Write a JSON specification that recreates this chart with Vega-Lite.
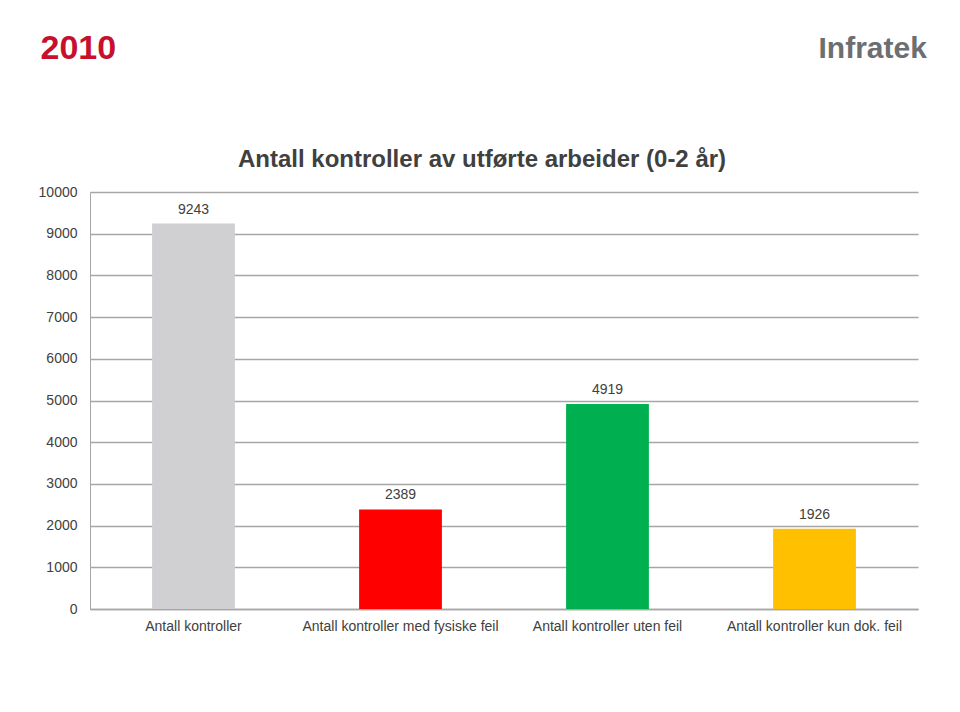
{
  "$schema": "https://vega.github.io/schema/vega-lite/v6.json",
  "autosize": {"type": "none"},
  "padding": {"left": 90, "top": 192, "right": 42, "bottom": 103},
  "width": 828,
  "height": 417,
  "background": "white",
  "title": {
    "text": "Antall kontroller av utførte arbeider (0-2 år)",
    "font": "Liberation Sans",
    "fontSize": 24,
    "fontWeight": "bold",
    "color": "#404040",
    "anchor": "middle",
    "dx": -22,
    "offset": -141
  },
  "config": {
    "view": {"stroke": null},
    "font": "Liberation Sans"
  },
  "data": {
    "values": [
      {"kategori": "Antall kontroller", "antall": 9243, "farge": "#D0D0D2"},
      {"kategori": "Antall kontroller med fysiske feil", "antall": 2389, "farge": "#FF0000"},
      {"kategori": "Antall kontroller uten feil", "antall": 4919, "farge": "#00B050"},
      {"kategori": "Antall kontroller  kun dok. feil", "antall": 1926, "farge": "#FFC000"}
    ]
  },
  "encoding": {
    "x": {
      "field": "kategori",
      "type": "nominal",
      "sort": null,
      "scale": {"paddingInner": 0.6, "paddingOuter": 0.3},
      "axis": {
        "title": "Infratek",
        "titleFont": "Liberation Sans",
        "titleFontSize": 30,
        "titleFontWeight": "bold",
        "titleColor": "#6D6E71",
        "titleAlign": "left",
        "titleBaseline": "alphabetic",
        "titleX": 728,
        "titleY": -552,
        "labelAngle": 0,
        "labelFontSize": 14,
        "labelColor": "#404040",
        "labelPadding": 10,
        "labelLimit": 300,
        "ticks": false,
        "domainColor": "#A6A6A6",
        "domainWidth": 1.5
      }
    },
    "y": {
      "field": "antall",
      "type": "quantitative",
      "scale": {"domain": [0, 10000]},
      "axis": {
        "title": "2010",
        "titleFont": "Liberation Sans",
        "titleFontSize": 34,
        "titleFontWeight": "bold",
        "titleColor": "#C8102E",
        "titleAngle": 0,
        "titleAlign": "left",
        "titleBaseline": "alphabetic",
        "titleX": -50,
        "titleY": -134,
        "values": [0, 1000, 2000, 3000, 4000, 5000, 6000, 7000, 8000, 9000, 10000],
        "format": "d",
        "labelFontSize": 14,
        "labelColor": "#404040",
        "labelPadding": 13,
        "ticks": false,
        "domainColor": "#A6A6A6",
        "domainWidth": 1,
        "gridColor": "#A6A6A6",
        "gridWidth": 1.5
      }
    }
  },
  "layer": [
    {
      "mark": {"type": "bar"},
      "encoding": {
        "color": {"field": "farge", "type": "nominal", "scale": null}
      }
    },
    {
      "mark": {"type": "text", "dy": -14, "fontSize": 14, "color": "#404040"},
      "encoding": {
        "text": {"field": "antall", "type": "quantitative", "format": "d"}
      }
    }
  ]
}
